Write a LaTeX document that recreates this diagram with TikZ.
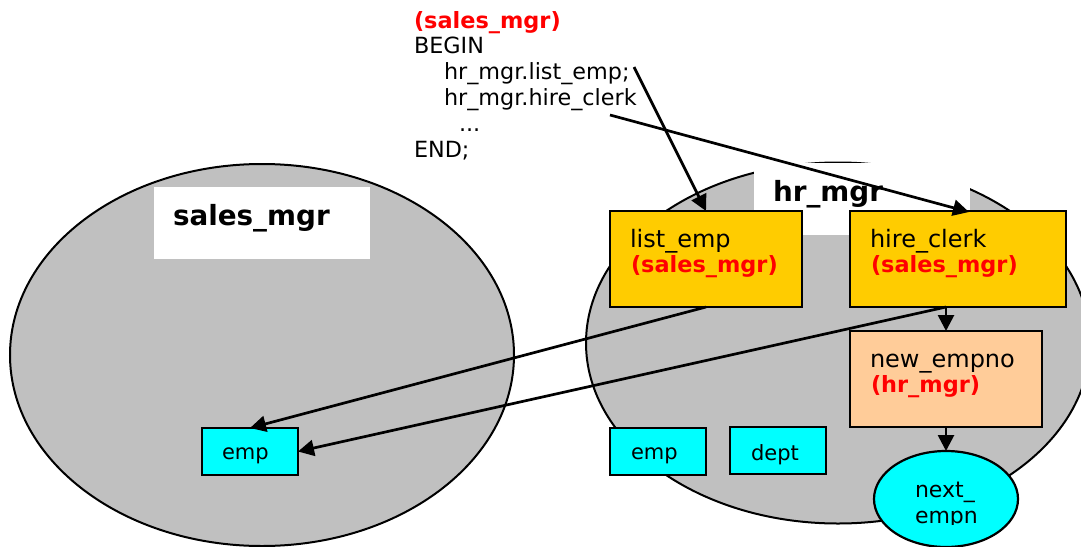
\documentclass[tikz,border=0pt]{standalone}
\usepackage{fontspec}
\setmainfont{DejaVu Sans}
\usetikzlibrary{arrows.meta,shapes.geometric}
\definecolor{shade}{RGB}{192,192,192}
\definecolor{amber}{RGB}{255,204,0}
\definecolor{peach}{RGB}{255,204,153}
\definecolor{aqua}{RGB}{0,255,255}
\definecolor{redtxt}{RGB}{255,0,0}
\tikzset{
  blob/.style={ellipse,draw=black,line width=2pt,fill=shade,inner sep=0pt,outer sep=0pt},
  whitebox/.style={rectangle,fill=white,inner sep=0pt,outer sep=0pt,anchor=north west},
  codebox/.style={rectangle,draw=black,line width=2.2pt,inner sep=0pt,outer sep=0pt,anchor=north west},
  proc/.style={codebox,fill=amber},
  func/.style={codebox,fill=peach},
  tbl/.style={codebox,fill=aqua},
  seq/.style={ellipse,draw=black,line width=2.2pt,fill=aqua,inner sep=0pt,outer sep=0pt,minimum width=144pt,minimum height=96pt},
  txt/.style={anchor=base west,inner sep=0pt,outer sep=0pt,font=\fontsize{21}{26}\selectfont,text=black},
  code/.style={txt,font=\fontsize{22.3}{26}\selectfont},
  unitlab/.style={txt,font=\fontsize{24}{28}\selectfont},
  redlab/.style={anchor=base west,inner sep=0pt,outer sep=0pt,font=\fontsize{22.4}{26}\selectfont\bfseries,text=redtxt},
  title/.style={anchor=base west,inner sep=0pt,outer sep=0pt,font=\fontsize{27.8}{32}\selectfont\bfseries,text=black},
  conn/.style={draw=black,line width=2.7pt,-{Triangle[length=16pt,width=16pt]},shorten >=0pt},
}
\begin{document}
\begin{tikzpicture}[x=1pt,y=-1pt]
\useasboundingbox (0,0) rectangle (1081,546);
\clip (0,0) rectangle (1081,546);
% owner ellipses
\node[blob,minimum width=504pt,minimum height=382pt] (salesblob) at (262,355) {};
\node[blob,minimum width=504pt,minimum height=361pt] (hrblob) at (838,343) {};
% title panels
\node[whitebox,minimum width=216pt,minimum height=72pt] (salespanel) at (154,187) {};
\node[whitebox,minimum width=216pt,minimum height=72pt] (hrpanel) at (754,163) {};
\node[title] (salestitle) at (173,225) {sales\_mgr};
\node[title] (hrtitle) at (773,201) {hr\_mgr};
% code listing
\node[redlab] (c1) at (414,28) {(sales\_mgr)};
\node[code] (c2) at (414,53) {BEGIN};
\node[code] (c3) at (444,79) {hr\_mgr.list\_emp;};
\node[code] (c4) at (444,105) {hr\_mgr.hire\_clerk};
\node[code] (c5) at (459,131) {...};
\node[code] (c6) at (414,157) {END;};
% program units
\node[proc,minimum width=192pt,minimum height=96pt] (listemp) at (610,211) {};
\node[proc,minimum width=216pt,minimum height=96pt] (hire) at (850,211) {};
\node[func,minimum width=192pt,minimum height=96pt] (newemp) at (850,331) {};
\node[unitlab] (l1) at (630,247) {list\_emp};
\node[redlab] (l2) at (631,272) {(sales\_mgr)};
\node[unitlab] (h1) at (870,247) {hire\_clerk};
\node[redlab] (h2) at (871,272) {(sales\_mgr)};
\node[unitlab] (n1) at (870,367) {new\_empno};
\node[redlab] (n2) at (871,392) {(hr\_mgr)};
% tables
\node[tbl,minimum width=96pt,minimum height=47pt] (emp1) at (202,428) {};
\node[tbl,minimum width=96pt,minimum height=47pt] (emp2) at (610,428) {};
\node[tbl,minimum width=96pt,minimum height=47pt] (dept) at (730,427) {};
\node[txt] (e1) at (222,459) {emp};
\node[txt] (e2) at (631,459) {emp};
\node[txt] (d1) at (751,460) {dept};
% sequence
\node[seq] (next) at (946,499) {};
\node[txt,font=\fontsize{22}{26}\selectfont] (s1) at (915,497) {next\_};
\begin{scope}
  \clip (900,500) rectangle (990,524);
  \node[txt,font=\fontsize{22}{26}\selectfont] (s2) at (915,523) {empn};
\end{scope}
% connectors
\coordinate (fromlist) at (634,67);
\coordinate (fromhire) at (610,115);
\coordinate (hiretop) at (969,212);
\coordinate (hirebot) at (newemp.north |- hire.south);
\draw[conn] (fromlist) -- (listemp.north);
\draw[conn] (fromhire) -- (hiretop);
\draw[conn] (listemp.south) -- (emp1.north);
\draw[conn] (hirebot) -- (emp1.east);
\draw[conn] (hirebot) -- (newemp.north);
\draw[conn] (newemp.south) -- (next.north);
\end{tikzpicture}
\end{document}
